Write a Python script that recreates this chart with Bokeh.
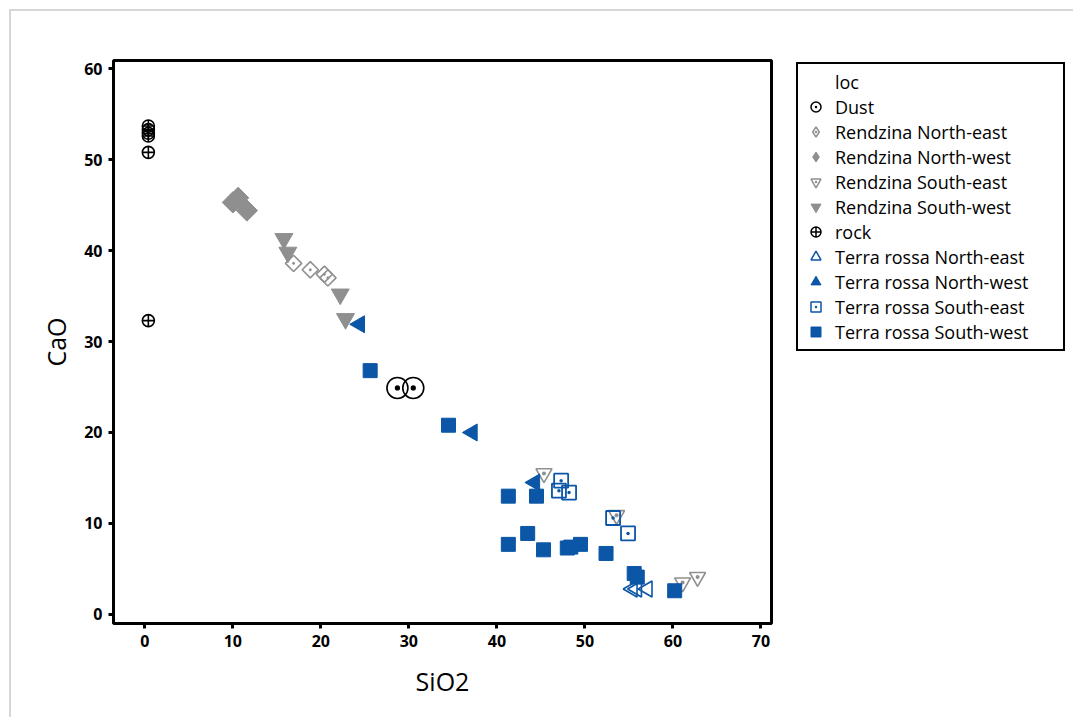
import math
from bokeh.plotting import figure
from bokeh.layouts import row
from bokeh.models import Range1d, Legend, LegendItem, FixedTicker
from bokeh.embed import file_html
from bokeh.resources import INLINE

# ---- data (SiO2, CaO) ----
dust_x = [28.7, 30.5]
dust_y = [24.9, 24.9]

rne_x = [16.9, 18.8, 20.4, 20.8]
rne_y = [38.6, 37.9, 37.4, 37.0]

rnw_x = [10.0, 10.6, 11.6]
rnw_y = [45.3, 45.8, 44.4]

rse_x = [45.35, 53.6, 61.1, 62.8]
rse_y = [15.5, 10.9, 3.5, 4.1]

rsw_x = [15.8, 16.25, 22.2, 22.8]
rsw_y = [41.3, 39.8, 35.2, 32.5]

rock_x = [0.4, 0.4, 0.4, 0.4, 0.4, 0.4]
rock_y = [53.7, 53.3, 52.9, 52.6, 50.8, 32.3]

trne_x = [55.4, 55.9, 57.1]
trne_y = [2.8, 2.8, 2.8]

trnw_x = [24.4, 37.2, 44.3]
trnw_y = [31.9, 20.0, 14.5]

trse_x = [47.3, 47.05, 48.2, 53.2, 54.9]
trse_y = [14.7, 13.6, 13.4, 10.6, 8.9]

trsw_x = [25.6, 34.5, 41.3, 44.5, 43.5, 41.3, 45.3, 48.0, 48.4, 49.5, 52.4, 55.6, 55.95, 60.2]
trsw_y = [26.8, 20.8, 13.0, 13.0, 8.9, 7.7, 7.1, 7.3, 7.4, 7.7, 6.7, 4.5, 4.1, 2.6]

x_ticks = [0, 10, 20, 30, 40, 50, 60, 70]
y_ticks = [0, 10, 20, 30, 40, 50, 60]

legend_title = "loc"
legend_labels = ["Dust", "Rendzina North-east", "Rendzina North-west", "Rendzina South-east",
                 "Rendzina South-west", "rock", "Terra rossa North-east", "Terra rossa North-west",
                 "Terra rossa South-east", "Terra rossa South-west"]

GRAY = "#8f8f8f"
BLUE = "#0b56a6"
FONT = "Open Sans"

# ---------------- main plot ----------------
p = figure(width=765, height=706, output_backend="svg", toolbar_location=None,
           x_range=Range1d(-3.56, 71.2), y_range=Range1d(-1.0, 60.9),
           min_border_left=102, min_border_right=5, min_border_top=49, min_border_bottom=94)

p.background_fill_color = "white"
p.border_fill_color = "white"
p.outline_line_color = "black"
p.outline_line_alpha = 1
p.outline_line_width = 3
p.xgrid.visible = False
p.ygrid.visible = False

for ax, ticks in ((p.xaxis, x_ticks), (p.yaxis, y_ticks)):
    ax.ticker = FixedTicker(ticks=ticks)
    ax.axis_line_color = None
    ax.major_tick_line_color = "black"
    ax.major_tick_line_width = 3
    ax.major_tick_out = 5
    ax.major_tick_in = 0
    ax.minor_tick_line_color = None
    ax.major_label_text_font = FONT
    ax.major_label_text_font_size = "16px"
    ax.major_label_text_font_style = "bold"
    ax.major_label_text_color = "black"
    ax.axis_label_text_font = FONT
    ax.axis_label_text_font_size = "25px"
    ax.axis_label_text_font_style = "normal"
    ax.axis_label_text_color = "black"

p.xaxis.axis_label = "SiO2"
p.yaxis.axis_label = "CaO"
p.xaxis.major_label_standoff = 6
p.yaxis.major_label_standoff = 6
p.xaxis.axis_label_standoff = 14
p.yaxis.axis_label_standoff = 8

DIAMOND = math.pi / 4
LEFT = math.pi / 2

p.scatter(rsw_x, rsw_y, marker="inverted_triangle", size=18, fill_color=GRAY, line_color=GRAY)
p.scatter(rnw_x, rnw_y, marker="square", angle=DIAMOND, size=15, fill_color=GRAY, line_color=GRAY)
p.scatter(rne_x, rne_y, marker="square_dot", angle=DIAMOND, size=11.5, fill_color=None, line_color=GRAY, line_width=1.6)
p.scatter(rse_x, rse_y, marker="inverted_triangle", size=16, fill_color=None, line_color=GRAY, line_width=1.6)
p.scatter(rse_x, rse_y, marker="dot", size=16, line_color=GRAY, fill_color=GRAY)
p.scatter(rock_x, rock_y, marker="circle_cross", size=12, fill_color=None, line_color="black", line_width=1.6)
p.scatter(dust_x, dust_y, marker="circle_dot", size=21, fill_color=None, line_color="black", line_width=1.6)
p.scatter(trsw_x, trsw_y, marker="square", size=14, fill_color=BLUE, line_color=BLUE)
p.scatter(trnw_x, trnw_y, marker="triangle", angle=LEFT, size=17, fill_color=BLUE, line_color=BLUE)
p.scatter(trne_x, trne_y, marker="triangle", angle=LEFT, size=16, fill_color=None, line_color=BLUE, line_width=1.6)
p.scatter(trse_x, trse_y, marker="square_dot", size=14, fill_color=None, line_color=BLUE, line_width=1.8)

# ---------------- legend panel ----------------
q = figure(width=297, height=706, output_backend="svg", toolbar_location=None,
           x_range=Range1d(0, 1), y_range=Range1d(0, 1), x_axis_type=None, y_axis_type=None,
           min_border_left=0, min_border_right=0, min_border_top=0, min_border_bottom=0)
q.outline_line_color = None
q.xgrid.visible = False
q.ygrid.visible = False
q.background_fill_color = "white"
q.border_fill_color = "white"

hx, hy = [-10], [-10]  # legend swatch renderers, kept outside the visible range
lr = {}
lr["loc"] = [q.scatter(hx, hy, marker="circle", size=1, fill_alpha=0, line_alpha=0)]
lr["Dust"] = [q.scatter(hx, hy, marker="circle_dot", fill_color=None, line_color="black", line_width=1.5)]
lr["Rendzina North-east"] = [q.scatter(hx, hy, marker="diamond_dot", fill_color=None, line_color=GRAY, line_width=1.5)]
lr["Rendzina North-west"] = [q.scatter(hx, hy, marker="diamond", fill_color=GRAY, line_color=GRAY)]
lr["Rendzina South-east"] = [q.scatter(hx, hy, marker="inverted_triangle", fill_color=None, line_color=GRAY, line_width=1.5),
                             q.scatter(hx, hy, marker="dot", fill_color=GRAY, line_color=GRAY)]
lr["Rendzina South-west"] = [q.scatter(hx, hy, marker="inverted_triangle", fill_color=GRAY, line_color=GRAY)]
lr["rock"] = [q.scatter(hx, hy, marker="circle_cross", fill_color=None, line_color="black", line_width=1.5)]
lr["Terra rossa North-east"] = [q.scatter(hx, hy, marker="triangle", fill_color=None, line_color=BLUE, line_width=1.5)]
lr["Terra rossa North-west"] = [q.scatter(hx, hy, marker="triangle", fill_color=BLUE, line_color=BLUE)]
lr["Terra rossa South-east"] = [q.scatter(hx, hy, marker="square_dot", fill_color=None, line_color=BLUE, line_width=1.5)]
lr["Terra rossa South-west"] = [q.scatter(hx, hy, marker="square", fill_color=BLUE, line_color=BLUE)]

items = [LegendItem(label=legend_title, renderers=lr["loc"])]
items += [LegendItem(label=lab, renderers=lr[lab]) for lab in legend_labels]

legend = Legend(items=items, location=(20, 272))
legend.label_text_font = FONT
legend.label_text_font_size = "18px"
legend.label_text_color = "black"
legend.glyph_width = 25
legend.glyph_height = 25
legend.label_height = 20
legend.label_width = 223
legend.spacing = 0
legend.padding = 5
legend.margin = 0
legend.label_standoff = 7
legend.border_line_color = "black"
legend.border_line_alpha = 1.0
legend.border_line_width = 2
legend.background_fill_color = "white"
legend.background_fill_alpha = 1.0
q.add_layout(legend)

layout = row(p, q, spacing=0)
layout.styles = {"margin-left": "9px", "margin-top": "9px",
                 "border-left": "2px solid #d6d6d6", "border-top": "2px solid #d6d6d6"}

open("out.html", "w").write(file_html(layout, INLINE))
